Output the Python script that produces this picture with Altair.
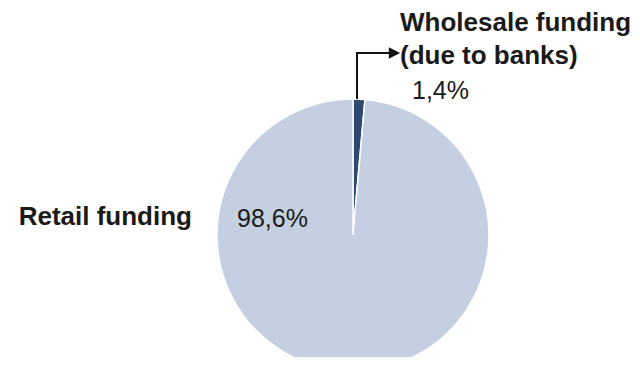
import altair as alt
import pandas as pd

# ---- data ----
categories = ["Wholesale funding\n(due to banks)", "Retail funding"]
shares = [1.4, 98.6]
slice_colors = ["#2D4A70", "#C4CFE1"]
slice_order = [0, 1]

df = pd.DataFrame({"category": categories, "share": shares, "order": slice_order})
df["pct"] = [f"{v:.1f}".replace(".", ",") + "%" for v in shares]

# ---- layout (chart coords; page = chart + 8px margin) ----
W, H = 624, 349
CX, CY, R = 345, 227, 136
FONT = "Liberation Sans"
TXT = "#1a1a1a"

base = alt.Chart(df)
wholesale = base.transform_filter(alt.datum.order == 0)
retail = base.transform_filter(alt.datum.order == 1)

pie = base.mark_arc(outerRadius=R, stroke="white", strokeWidth=1.5).encode(
    theta=alt.Theta("share:Q", stack=True),
    color=alt.Color("category:N",
                    scale=alt.Scale(domain=categories, range=slice_colors),
                    legend=None),
    order=alt.Order("order:Q"),
    x=alt.value(CX),
    y=alt.value(CY),
)

name_w = wholesale.mark_text(font=FONT, fontSize=26, fontWeight="bold", align="left",
                             baseline="alphabetic", lineBreak="\n", lineHeight=33,
                             color=TXT).encode(
    text="category:N", x=alt.value(392), y=alt.value(22.5))

pct_w = wholesale.mark_text(font=FONT, fontSize=25, align="left",
                            baseline="alphabetic", color=TXT).encode(
    text="pct:N", x=alt.value(404), y=alt.value(90.5))

name_r = retail.mark_text(font=FONT, fontSize=26, fontWeight="bold", align="right",
                          baseline="alphabetic", color=TXT).encode(
    text="category:N", x=alt.value(184), y=alt.value(216.7))

pct_r = retail.mark_text(font=FONT, fontSize=25, align="left",
                         baseline="alphabetic", color=TXT).encode(
    text="pct:N", x=alt.value(229), y=alt.value(219))

vline = wholesale.mark_rule(color="#111", strokeWidth=2, strokeCap="square").encode(
    x=alt.value(349), y=alt.value(45), y2=alt.value(90))
hline = wholesale.mark_rule(color="#111", strokeWidth=2, strokeCap="square").encode(
    x=alt.value(349), x2=alt.value(382), y=alt.value(45))
head = wholesale.mark_point(shape="M-1,-1L1,0L-1,1Z", filled=True, opacity=1,
                            color="#111", size=130).encode(
    x=alt.value(386.5), y=alt.value(45))

chart = alt.layer(pie, vline, hline, head, name_w, pct_w, name_r, pct_r).properties(
    width=W, height=H,
    autosize=alt.AutoSizeParams(type="none"),
    padding=0,
).configure_view(stroke=None)

chart.save("out.html", embed_options={"renderer": "svg", "actions": False})
